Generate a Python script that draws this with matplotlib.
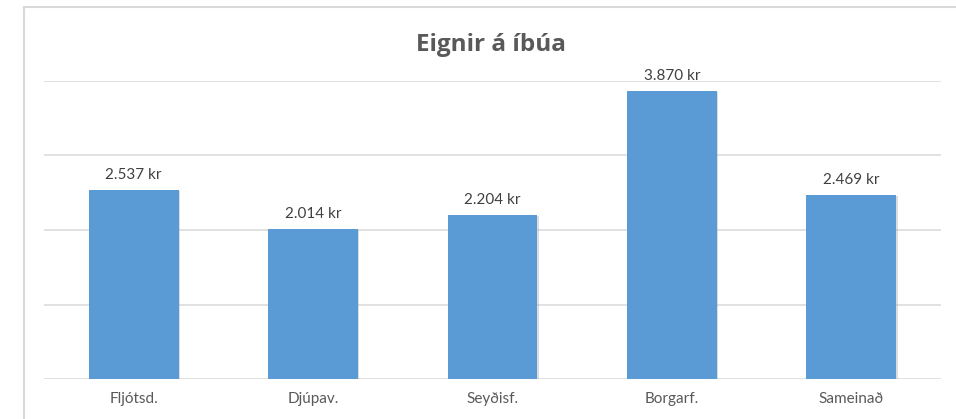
import matplotlib
matplotlib.use("Agg")
import matplotlib.pyplot as plt
import matplotlib.patheffects as pe
from matplotlib.patches import Rectangle

categories = ["Fljótsd.", "Djúpav.", "Seyðisf.", "Borgarf.", "Sameinað"]
values = [2537, 2014, 2204, 3870, 2469]
labels = ["2.537 kr", "2.014 kr", "2.204 kr", "3.870 kr", "2.469 kr"]
y_ticks = [0, 1000, 2000, 3000, 4000]
title = "Eignir á íbúa"

W, H, DPI = 956, 419, 100
fig = plt.figure(figsize=(W / DPI, H / DPI), dpi=DPI)
fig.patch.set_facecolor("white")

# outer chart frame (extends beyond right/bottom edges)
fig.patches.append(Rectangle((23.5 / W, -0.1), 1.2, 1 - 7.5 / H + 0.1,
                             transform=fig.transFigure, fill=False,
                             edgecolor="#d9d9d9", linewidth=1.5))

ax = fig.add_axes([44 / W, (H - 379) / H, 897 / W, 298 / H])
x = range(len(categories))
bars = ax.bar(x, values, width=0.5, color="#5B9BD5", zorder=3)
for b in bars:
    b.set_path_effects([pe.SimplePatchShadow(offset=(1.0, -1.0), shadow_rgbFace="#a0a0a0", alpha=0.35),
                        pe.Normal()])

ax.set_xlim(-0.5, len(categories) - 0.5)
ax.set_ylim(0, 4000)
ax.set_yticks(y_ticks)
ax.yaxis.grid(True, color="#d9d9d9", linewidth=1.1, zorder=0)
ax.set_axisbelow(True)
ax.tick_params(axis="y", left=False, labelleft=False)
ax.set_xticks(list(x))
ax.set_xticklabels(categories, fontsize=11, color="#595959", family="Lato")
ax.tick_params(axis="x", length=0, pad=9.5)
for s in ax.spines.values():
    s.set_visible(False)

for xi, v, lab in zip(x, values, labels):
    ax.annotate(lab, (xi, v), xytext=(0, 8), textcoords="offset points",
                ha="center", va="baseline", fontsize=11, color="#404040", family="Lato")

fig.text(491 / W, 1 - 45 / H, title, ha="center", va="center", fontsize=17.5,
         fontweight="bold", color="#595959", family="Open Sans")

fig.savefig("out.png", dpi=DPI)
